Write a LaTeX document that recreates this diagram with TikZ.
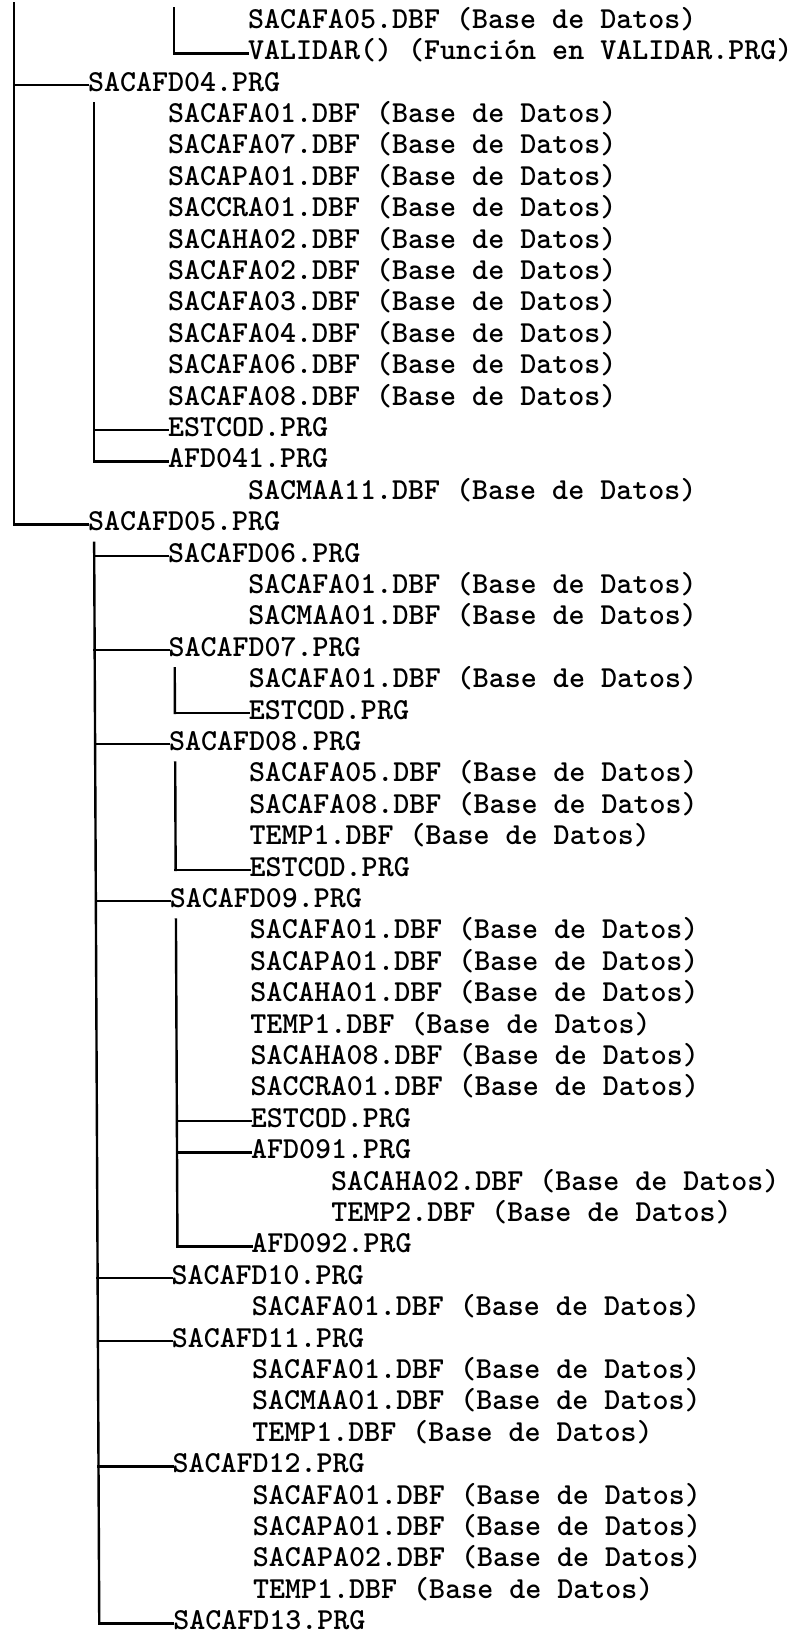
\documentclass[tikz,border=0pt]{standalone}
\pgfmathdeclarefunction{rowy}{1}{\pgfmathparse{-(19+(#1-1)*31.4)}}
\pgfmathdeclarefunction{drft}{1}{\pgfmathparse{max(0,#1-17)*0.15}}
\tikzset{
  conn/.style={line width=2.4pt, line cap=rect},
  txt/.style={font=\ttfamily\bfseries\fontsize{30.5}{30.5}\selectfont, inner sep=0pt, outer sep=0pt,
    anchor=base west, text height=18.6pt, text depth=0pt}
}
\newcommand\entry[4]{\node[txt] (#1) at ({#2+drft(#3)},{rowy(#3)-9.3}) {#4};}
\newcommand\brn[1]{\draw[conn] ([xshift=-74pt,yshift=-3pt]#1.west) -- ([yshift=-3pt]#1.west);}
\begin{document}
\begin{tikzpicture}[x=1pt,y=1pt]
\useasboundingbox (0,0) rectangle (796,-1642);
% text columns: L1=88, L2=168, L3=248, L4=328
\entry{r1}{248}{1}{SACAFA05.DBF (Base de Datos)}
\entry{r2}{248}{2}{VALIDAR() (Función en VALIDAR.PRG)}
\entry{r3}{88}{3}{SACAFD04.PRG}
\entry{r4}{168}{4}{SACAFA01.DBF (Base de Datos)}
\entry{r5}{168}{5}{SACAFA07.DBF (Base de Datos)}
\entry{r6}{168}{6}{SACAPA01.DBF (Base de Datos)}
\entry{r7}{168}{7}{SACCRA01.DBF (Base de Datos)}
\entry{r8}{168}{8}{SACAHA02.DBF (Base de Datos)}
\entry{r9}{168}{9}{SACAFA02.DBF (Base de Datos)}
\entry{r10}{168}{10}{SACAFA03.DBF (Base de Datos)}
\entry{r11}{168}{11}{SACAFA04.DBF (Base de Datos)}
\entry{r12}{168}{12}{SACAFA06.DBF (Base de Datos)}
\entry{r13}{168}{13}{SACAFA08.DBF (Base de Datos)}
\entry{r14}{168}{14}{ESTCOD.PRG}
\entry{r15}{168}{15}{AFD041.PRG}
\entry{r16}{248}{16}{SACMAA11.DBF (Base de Datos)}
\entry{r17}{88}{17}{SACAFD05.PRG}
\entry{r18}{168}{18}{SACAFD06.PRG}
\entry{r19}{248}{19}{SACAFA01.DBF (Base de Datos)}
\entry{r20}{248}{20}{SACMAA01.DBF (Base de Datos)}
\entry{r21}{168}{21}{SACAFD07.PRG}
\entry{r22}{248}{22}{SACAFA01.DBF (Base de Datos)}
\entry{r23}{248}{23}{ESTCOD.PRG}
\entry{r24}{168}{24}{SACAFD08.PRG}
\entry{r25}{248}{25}{SACAFA05.DBF (Base de Datos)}
\entry{r26}{248}{26}{SACAFA08.DBF (Base de Datos)}
\entry{r27}{248}{27}{TEMP1.DBF (Base de Datos)}
\entry{r28}{248}{28}{ESTCOD.PRG}
\entry{r29}{168}{29}{SACAFD09.PRG}
\entry{r30}{248}{30}{SACAFA01.DBF (Base de Datos)}
\entry{r31}{248}{31}{SACAPA01.DBF (Base de Datos)}
\entry{r32}{248}{32}{SACAHA01.DBF (Base de Datos)}
\entry{r33}{248}{33}{TEMP1.DBF (Base de Datos)}
\entry{r34}{248}{34}{SACAHA08.DBF (Base de Datos)}
\entry{r35}{248}{35}{SACCRA01.DBF (Base de Datos)}
\entry{r36}{248}{36}{ESTCOD.PRG}
\entry{r37}{248}{37}{AFD091.PRG}
\entry{r38}{328}{38}{SACAHA02.DBF (Base de Datos)}
\entry{r39}{328}{39}{TEMP2.DBF (Base de Datos)}
\entry{r40}{248}{40}{AFD092.PRG}
\entry{r41}{168}{41}{SACAFD10.PRG}
\entry{r42}{248}{42}{SACAFA01.DBF (Base de Datos)}
\entry{r43}{168}{43}{SACAFD11.PRG}
\entry{r44}{248}{44}{SACAFA01.DBF (Base de Datos)}
\entry{r45}{248}{45}{SACMAA01.DBF (Base de Datos)}
\entry{r46}{248}{46}{TEMP1.DBF (Base de Datos)}
\entry{r47}{168}{47}{SACAFD12.PRG}
\entry{r48}{248}{48}{SACAFA01.DBF (Base de Datos)}
\entry{r49}{248}{49}{SACAPA01.DBF (Base de Datos)}
\entry{r50}{248}{50}{SACAPA02.DBF (Base de Datos)}
\entry{r51}{248}{51}{TEMP1.DBF (Base de Datos)}
\entry{r52}{168}{52}{SACAFD13.PRG}
% vertical tops
\coordinate (t0) at (14,-3);
\coordinate (t1) at (174,-8);
\coordinate (t4) at ({94+drft(4)},{rowy(4)+10});
\coordinate (t18) at ({94+drft(18)},{rowy(18)+10});
\coordinate (t22) at ({174+drft(22)},{rowy(22)+10});
\coordinate (t25) at ({174+drft(25)},{rowy(25)+10});
\coordinate (t30) at ({174+drft(30)},{rowy(30)+10});
% verticals
\draw[conn] (t0) -- ([xshift=-74pt,yshift=-3pt]r17.west);
\draw[conn] (t1) -- ([xshift=-74pt,yshift=-3pt]r2.west);
\draw[conn] (t4) -- ([xshift=-74pt,yshift=-3pt]r15.west);
\draw[conn] (t18) -- ([xshift=-74pt,yshift=-3pt]r52.west);
\draw[conn] (t22) -- ([xshift=-74pt,yshift=-3pt]r23.west);
\draw[conn] (t25) -- ([xshift=-74pt,yshift=-3pt]r28.west);
\draw[conn] (t30) -- ([xshift=-74pt,yshift=-3pt]r40.west);
% branches
\brn{r2}\brn{r3}\brn{r14}\brn{r15}\brn{r17}
\brn{r18}\brn{r21}\brn{r23}\brn{r24}\brn{r28}\brn{r29}
\brn{r36}\brn{r37}\brn{r40}
\brn{r41}\brn{r43}\brn{r47}\brn{r52}
\end{tikzpicture}
\end{document}
